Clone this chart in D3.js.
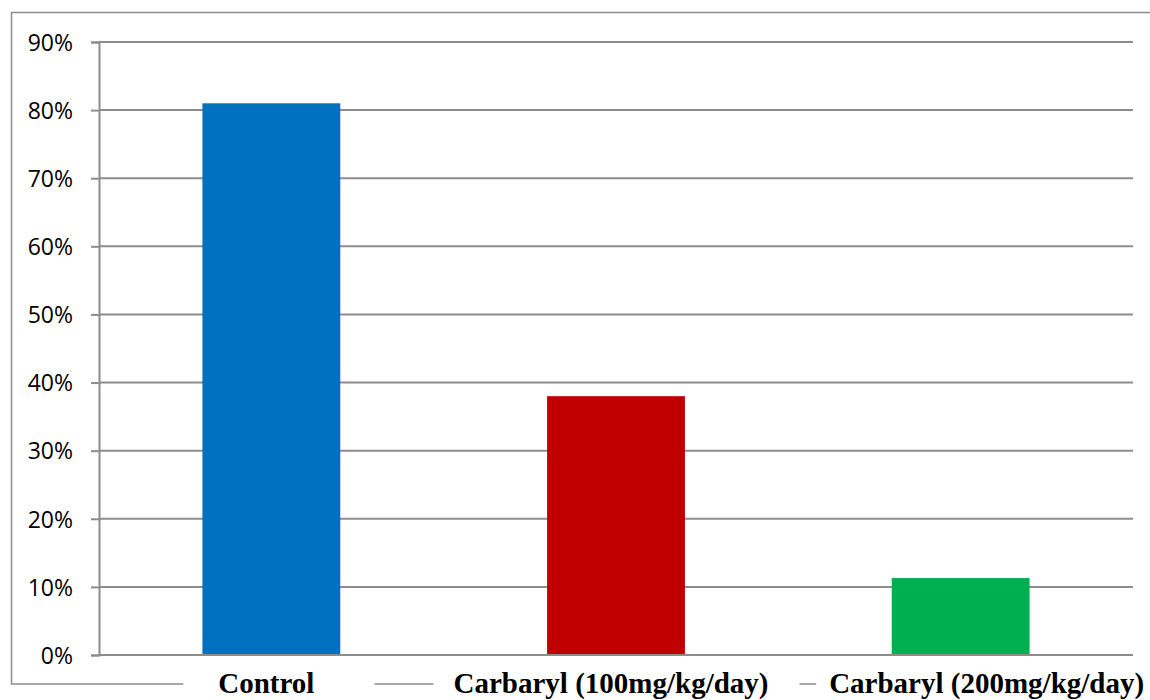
<!DOCTYPE html>
<html>
<head>
<meta charset="utf-8">
<script src="https://cdn.jsdelivr.net/npm/d3@7"></script>
<style>
  html, body { margin: 0; padding: 0; background: #fff; }
  svg { display: block; }
</style>
</head>
<body>
<svg id="chart" width="1150" height="700"></svg>
<script>
// Chart data
const categories = ["Control", "Carbaryl (100mg/kg/day)", "Carbaryl (200mg/kg/day)"];
const values = [0.81, 0.38, 0.113];
const colors = ["#0070C0", "#C00000", "#00B050"];
const yTicks = [0, 0.1, 0.2, 0.3, 0.4, 0.5, 0.6, 0.7, 0.8, 0.9];

const svg = d3.select("#chart");
const W = 1150, H = 700;
const plot = { left: 99, right: 1133, top: 42, bottom: 655 };

const x = d3.scaleBand()
  .domain(categories)
  .range([plot.left, plot.right])
  .paddingInner(0.6)
  .paddingOuter(0.3);

const y = d3.scaleLinear()
  .domain([0, 0.9])
  .range([plot.bottom, plot.top]);

const gridColor = "#8c8c8c";

// Outer chart frame
svg.append("rect")
  .attr("x", 11.5).attr("y", 12.5)
  .attr("width", W + 10).attr("height", 684 - 12.5)
  .attr("fill", "none")
  .attr("stroke", "#8c8c8c")
  .attr("stroke-width", 1.5);

// Horizontal gridlines
svg.append("g")
  .selectAll("line")
  .data(yTicks)
  .join("line")
  .attr("x1", plot.left).attr("x2", plot.right)
  .attr("y1", d => y(d)).attr("y2", d => y(d))
  .attr("stroke", gridColor)
  .attr("stroke-width", 2);

// Y axis
const yAxis = d3.axisLeft(y)
  .tickValues(yTicks)
  .tickFormat(d3.format(".0%"))
  .tickSize(8)
  .tickPadding(18);

const gy = svg.append("g")
  .attr("transform", `translate(${plot.left},0)`)
  .call(yAxis);
gy.select(".domain").attr("stroke", gridColor).attr("stroke-width", 2);
gy.selectAll(".tick line").attr("stroke", gridColor).attr("stroke-width", 2);
gy.selectAll(".tick text")
  .attr("fill", "#000")
  .attr("font-family", "'Open Sans', sans-serif")
  .attr("font-size", 23)
  .attr("dy", "0.36em");

// Bars
svg.append("g")
  .selectAll("rect")
  .data(categories)
  .join("rect")
  .attr("x", d => x(d))
  .attr("width", x.bandwidth())
  .attr("y", (d, i) => y(values[i]))
  .attr("height", (d, i) => y(0) - y(values[i]))
  .attr("fill", (d, i) => colors[i]);

// Baseline drawn over bars
svg.append("line")
  .attr("x1", plot.left).attr("x2", plot.right)
  .attr("y1", y(0)).attr("y2", y(0))
  .attr("stroke", gridColor)
  .attr("stroke-width", 2);

// Category labels with white boxes cutting the frame
const labelOffset = [-5, -5, 26];
const boxPad = [[35, 60], [20, 31], [13, 200]];
const labels = svg.append("g");
categories.forEach((c, i) => {
  const cx = x(c) + x.bandwidth() / 2 + labelOffset[i];
  const t = labels.append("text")
    .attr("x", cx)
    .attr("y", 693)
    .attr("text-anchor", "middle")
    .attr("font-family", "'Liberation Serif', 'Times New Roman', serif")
    .attr("font-weight", "bold")
    .attr("font-size", 29)
    .attr("fill", "#000")
    .text(c);
  const bb = t.node().getBBox();
  labels.insert("rect", "text")
    .attr("x", bb.x - boxPad[i][0])
    .attr("y", 676)
    .attr("width", bb.width + boxPad[i][0] + boxPad[i][1])
    .attr("height", 24)
    .attr("fill", "#fff");
});
</script>
</body>
</html>
